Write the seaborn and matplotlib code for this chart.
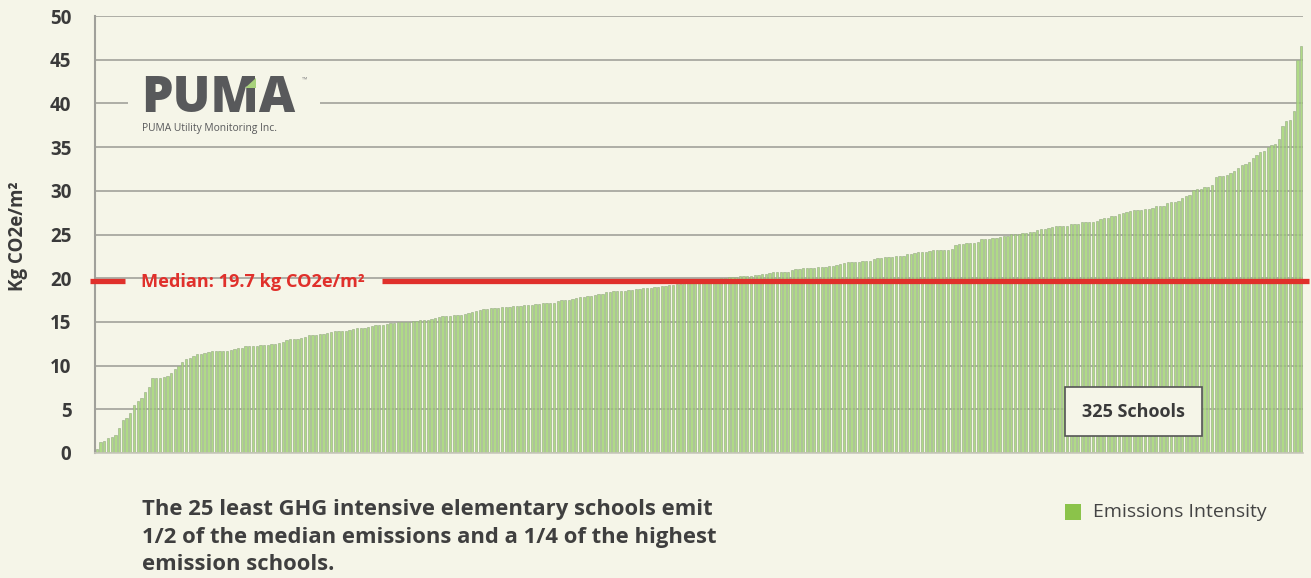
import numpy as np
import pandas as pd
import matplotlib
matplotlib.use("Agg")
import matplotlib.pyplot as plt
import matplotlib.transforms as mtransforms
from matplotlib.patches import Rectangle, Polygon
import seaborn as sns

# ---------------- data ----------------
values_low = [0.46, 1.22, 1.37, 1.68, 1.79, 2.06, 2.82, 3.77, 4.04, 4.54,
              5.49, 5.95, 6.26, 6.94, 7.59, 8.55, 8.55, 8.55, 8.70, 8.77,
              9.19, 9.57, 9.99, 10.41, 10.75, 10.90, 11.13, 11.33, 11.37, 11.48,
              11.56, 11.63, 11.71, 11.71, 11.71, 11.71, 11.79, 11.90, 11.98, 12.06,
              12.20, 12.24, 12.24, 12.28, 12.32, 12.36, 12.40, 12.43, 12.51, 12.62,
              12.73, 12.89, 13.00, 13.04, 13.04]
values_mid1 = [13.20, 13.31, 13.46, 13.46, 13.50, 13.65, 13.65, 13.73, 13.88, 13.92,
               14.00, 14.00, 14.00, 14.04, 14.19, 14.26, 14.26, 14.34, 14.41, 14.49,
               14.60, 14.68, 14.68, 14.76, 14.83, 14.91, 14.95, 14.99, 14.99, 15.03,
               15.07, 15.14, 15.18, 15.22, 15.22, 15.30, 15.49, 15.60, 15.64, 15.68,
               15.72, 15.79, 15.83, 15.83, 15.87, 15.98, 16.09, 16.21, 16.32, 16.44,
               16.51, 16.55, 16.59, 16.63, 16.67, 16.71, 16.74, 16.78, 16.82, 16.86,
               16.90]
values_mid2 = [16.93, 16.93, 17.00, 17.08, 17.12, 17.12, 17.16, 17.20, 17.39, 17.47,
               17.47, 17.51, 17.58, 17.70, 17.81, 17.90, 17.93, 18.00, 18.08, 18.15,
               18.23, 18.39, 18.46, 18.54, 18.54, 18.58, 18.58, 18.62, 18.65, 18.73,
               18.81, 18.85, 18.88, 18.92, 18.96, 19.04, 19.08, 19.15, 19.20, 19.25,
               19.33, 19.38, 19.42, 19.50, 19.56, 19.63, 19.70, 19.72, 19.76, 19.80,
               19.84, 19.91, 20.02, 20.06, 20.10, 20.17, 20.17, 20.25, 20.28, 20.30]
values_mid3 = [20.30, 20.33, 20.40, 20.48, 20.48, 20.63, 20.67, 20.71, 20.71, 20.71,
               20.71, 20.98, 21.09, 21.09, 21.13, 21.13, 21.17, 21.20, 21.32, 21.32,
               21.32, 21.36, 21.36, 21.55, 21.63, 21.75, 21.82, 21.82, 21.82, 21.86,
               21.93, 21.97, 21.97, 22.24, 22.28, 22.28, 22.39, 22.43, 22.47, 22.51,
               22.51, 22.58, 22.73, 22.77, 22.85, 22.96, 23.00, 23.00, 23.12, 23.20,
               23.20, 23.20, 23.23, 23.27, 23.31, 23.77, 23.88, 23.88, 24.00, 24.03,
               24.03, 24.19]
values_high = [24.45, 24.49, 24.52, 24.60, 24.64, 24.75, 24.83, 24.83, 25.06, 25.10,
               25.10, 25.21, 25.21, 25.25, 25.33, 25.56, 25.63, 25.67, 25.75, 25.90,
               25.94, 25.94, 25.98, 26.02, 26.17, 26.17, 26.25, 26.40, 26.40, 26.40,
               26.40, 26.60, 26.75, 26.87, 26.90, 27.13, 27.13, 27.40, 27.44, 27.52,
               27.67, 27.75, 27.75, 27.79, 27.90, 27.90, 27.98, 28.25, 28.29, 28.29,
               28.60, 28.72, 28.72, 28.79, 29.14, 29.37, 29.56, 30.13, 30.17, 30.25]
values_top = [30.40, 30.44, 30.70, 31.58, 31.66, 31.73, 31.77, 32.04, 32.23, 32.65,
              32.91, 33.07, 33.30, 33.80, 34.06, 34.40, 34.56, 34.98, 35.28, 35.40,
              35.97, 37.46, 37.95, 38.14, 39.13, 45.00, 46.56]

emissions = values_low + values_mid1 + values_mid2 + values_mid3 + values_high + values_top
schools = list(range(1, len(emissions) + 1))
y_ticks = [0, 5, 10, 15, 20, 25, 30, 35, 40, 45, 50]
series_label = "Emissions Intensity"
y_label = "Kg CO2e/m\u00b2"
note_lines = ["The 25 least GHG intensive elementary schools emit",
              "1/2 of the median emissions and a 1/4 of the highest",
              "emission schools."]

df = pd.DataFrame({"school": schools, "emissions": emissions})
median_val = float(np.median(df["emissions"]))

# ---------------- style ----------------
BG = "#f5f5e8"
GRID = "#a8a8a0"
TXT = "#3a3a3a"
RED = "#e0302b"
FONT = ["Open Sans", "DejaVu Sans"]

sns.set_theme(style="white")
plt.rcParams["font.family"] = FONT

W, H = 1311, 578
fig = plt.figure(figsize=(W / 100, H / 100), dpi=100)
fig.patch.set_facecolor(BG)

def fx(px):
    return px / W

def fy(py):
    return 1 - py / H

ax_l, ax_r, ax_t, ax_b = 95, 1303, 16, 453
ax = fig.add_axes([fx(ax_l), fy(ax_b), fx(ax_r - ax_l), (ax_b - ax_t) / H])
ax.set_facecolor(BG)

sns.barplot(data=df, x="school", y="emissions", ax=ax, color="#a8d87c",
            width=0.62, saturation=1, edgecolor="#9aae88", linewidth=0.5,
            alpha=0.9, zorder=2)

ax.set_xlim(-0.5, len(emissions) - 0.5)
ax.set_ylim(0, 50)
ax.set_yticks(y_ticks)
ax.set_yticklabels([str(t) for t in y_ticks], fontsize=13.5, fontweight="bold",
                   color=TXT)
ax.set_xticks([])
ax.set_xlabel("")
ax.set_ylabel("")
ax.tick_params(axis="y", length=0, pad=17)
ax.set_axisbelow(True)
ax.yaxis.grid(True, color=GRID, linewidth=1.3)
ax.xaxis.grid(False)
for s in ["top", "right"]:
    ax.spines[s].set_visible(False)
ax.spines["left"].set_color("#a0a09a")
ax.spines["left"].set_linewidth(1.5)
ax.spines["bottom"].set_color("#c8c8bc")
ax.spines["bottom"].set_linewidth(1.2)

# gap in the 40 gridline behind the logo
ax.add_patch(Rectangle(((128 - ax_l) / (ax_r - ax_l), 0.76),
                       (320 - 128) / (ax_r - ax_l), 0.08,
                       transform=ax.transAxes, facecolor=BG, edgecolor="none",
                       zorder=1))

# median line with a gap for the label
trans = mtransforms.blended_transform_factory(ax.transAxes, ax.transData)
span = ax_r - ax_l
for x0, x1 in [((90 - ax_l) / span, (125 - ax_l) / span),
               ((382 - ax_l) / span, (1309 - ax_l) / span)]:
    ax.plot([x0, x1], [median_val, median_val], transform=trans, color=RED,
            linewidth=3.8, solid_capstyle="butt", clip_on=False, zorder=4)
fig.text(fx(141), fy(282), f"Median: {median_val:.1f} kg CO2e/m\u00b2",
         color=RED, fontsize=13.1, fontweight="bold", va="center", ha="left")

# y label
fig.text(fx(18), fy(236), y_label, rotation=90, fontsize=13.5, fontweight="bold",
         color=TXT, ha="center", va="center")

# logo
fig.text(fx(141), fy(112), "PUMA", fontsize=36, fontweight="heavy",
         color="#58595b", ha="left", va="baseline")
fig.patches.append(Polygon([(fx(245), fy(88)), (fx(256), fy(78)), (fx(256), fy(88))],
                           closed=True, transform=fig.transFigure,
                           facecolor="#a8d27c", edgecolor="none", zorder=5))
fig.text(fx(302), fy(80), "\u2122", fontsize=5, color="#8a8a8a", ha="left",
         va="center")
fig.text(fx(142), fy(129), "PUMA Utility Monitoring Inc.", fontsize=7.4,
         color="#58595b", ha="left", va="center")

# schools box
fig.patches.append(Rectangle((fx(1065), fy(436)), fx(137), 49 / H,
                             transform=fig.transFigure, facecolor=BG,
                             edgecolor="#555555", linewidth=1.2, zorder=5))
fig.text(fx(1133.5), fy(412), f"{len(emissions)} Schools", fontsize=13,
         fontweight="bold", color=TXT, ha="center", va="center", zorder=6)

# legend
fig.patches.append(Rectangle((fx(1065), fy(520)), fx(16), 16 / H,
                             transform=fig.transFigure, facecolor="#8bc34a",
                             edgecolor="none", zorder=5))
fig.text(fx(1093), fy(512), series_label, fontsize=14, color="#444444",
         ha="left", va="center")

# note text
for i, line in enumerate(note_lines):
    fig.text(fx(142), fy(510 + 27.5 * i), line, fontsize=15.8, fontweight="bold",
             color="#3f3f3f", ha="left", va="center")

fig.savefig("out.png", dpi=100, facecolor=BG)
